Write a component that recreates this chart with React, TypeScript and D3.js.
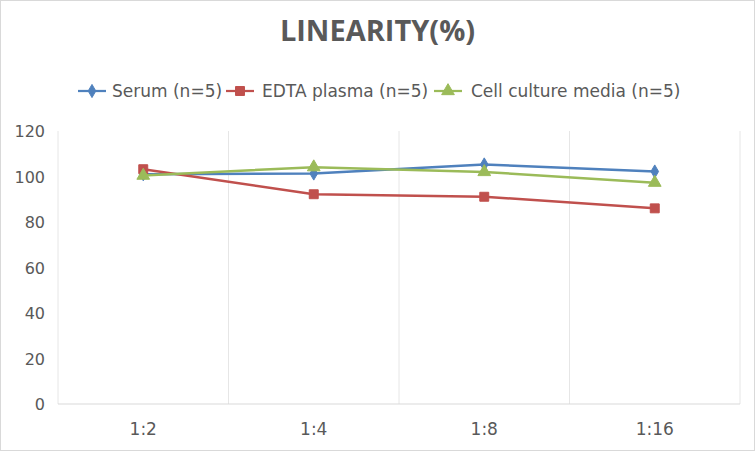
import * as React from 'react'
import * as d3 from 'd3'

const categories = ['1:2', '1:4', '1:8', '1:16']
const serum = [101, 101.3, 105.3, 102.2]
const edta = [103.2, 92.2, 91.1, 86]
const cellMedia = [100.4, 104.1, 102, 97.3]
const yTicks = [0, 20, 40, 60, 80, 100, 120]

const seriesList = [
    { name: 'Serum (n=5)', values: serum, color: '#4F81BD', shape: 'diamond' },
    { name: 'EDTA plasma (n=5)', values: edta, color: '#C0504D', shape: 'square' },
    { name: 'Cell culture media (n=5)', values: cellMedia, color: '#9BBB59', shape: 'triangle' },
]

const W = 755
const H = 451
const TITLE_FONT = '"Open Sans", "Noto Sans", sans-serif'
const FONT = '"DejaVu Sans", "Noto Sans", sans-serif'
const TEXT = '#595959'

function Marker({ shape, color, x, y }: { shape: string, color: string, x: number, y: number }) {
    const sym = shape === 'diamond' ? d3.symbolDiamond : shape === 'square' ? d3.symbolSquare : d3.symbolTriangle
    const size = shape === 'diamond' ? 50 : shape === 'square' ? 80 : 70
    return <path d={d3.symbol(sym, size)() as string} transform={`translate(${x} ${y})`} fill={color} stroke={color} strokeWidth={1} />
}

export default function App() {
    const left = 58, right = 740, top = 131, bottom = 404

    const x = d3.scaleBand().domain(categories).range([left, right])
    const y = d3.scaleLinear().domain([0, 120]).range([bottom, top])
    const cx = (c: string) => (x(c) as number) + x.bandwidth() / 2

    const line = d3.line<number>()
        .x((_, i) => cx(categories[i]))
        .y(d => y(d))

    // legend layout: marker centre and text start
    const legendItems = [
        { x: 92, textX: 112 },
        { x: 240, textX: 262 },
        { x: 448, textX: 471 },
    ]

    return <svg width={W} height={H} style={{ position: 'absolute', left: 0, top: 0, background: '#fff' }} fontFamily={FONT}>
        <rect x={0.5} y={0.5} width={W - 1} height={H - 1} fill="#fff" stroke="#D9D9D9" />
        <text x={W / 2} y={41} textAnchor="middle" fontSize={29} fontWeight="bold" fill={TEXT} fontFamily={TITLE_FONT}>LINEARITY(%)</text>

        {seriesList.map((s, i) =>
            <g key={i}>
                <line x1={legendItems[i].x - 14} x2={legendItems[i].x + 14} y1={91} y2={91} stroke={s.color} strokeWidth={2.25} />
                <Marker shape={s.shape} color={s.color} x={legendItems[i].x} y={91} />
                <text x={legendItems[i].textX} y={97} fontSize={17} fill={TEXT}>{s.name}</text>
            </g>
        )}

        {/* vertical gridlines at category boundaries */}
        {[...categories.map(c => x(c) as number), right].map((gx, i) =>
            <line key={i} x1={gx} x2={gx} y1={top} y2={bottom} stroke="#E6E6E6" strokeWidth={1} />
        )}
        <line x1={left} x2={right} y1={bottom} y2={bottom} stroke="#D9D9D9" strokeWidth={1} />

        {yTicks.map(t =>
            <text key={t} x={45} y={y(t) + 6} textAnchor="end" fontSize={16} fill={TEXT}>{t}</text>
        )}
        {categories.map(c =>
            <text key={c} x={cx(c)} y={435} textAnchor="middle" fontSize={17} fill={TEXT}>{c}</text>
        )}

        {seriesList.map((s, i) =>
            <g key={i}>
                <path d={line(s.values) as string} fill="none" stroke={s.color} strokeWidth={2.5} strokeLinejoin="round" />
                {s.values.map((v, j) =>
                    <Marker key={j} shape={s.shape} color={s.color} x={cx(categories[j])} y={y(v)} />
                )}
            </g>
        )}
    </svg>
}
